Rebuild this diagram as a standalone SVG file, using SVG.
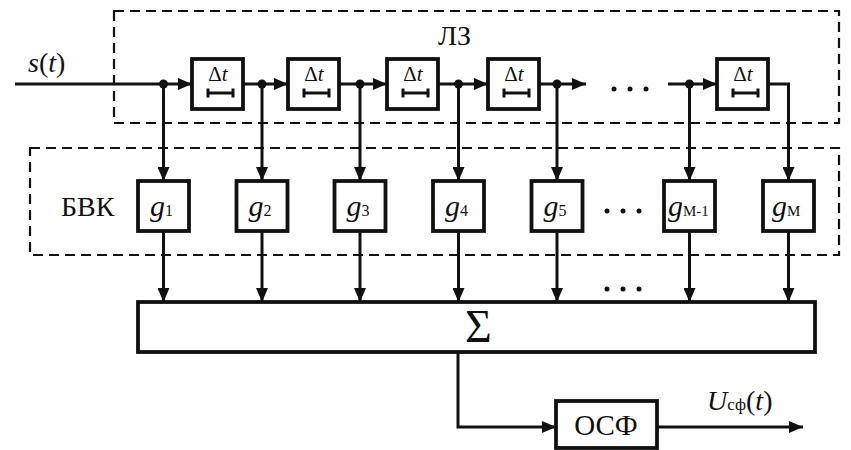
<svg xmlns="http://www.w3.org/2000/svg" width="851" height="450" viewBox="0 0 851 450" font-family="Liberation Serif, serif">
<defs>
  <marker id="ah" viewBox="0 0 14 12" refX="14" refY="6" markerWidth="14" markerHeight="12" markerUnits="userSpaceOnUse" orient="auto">
    <path d="M0,0 L14,6 L0,12 z" fill="#111"/>
  </marker>
</defs>
<rect width="851" height="450" fill="#fff"/>
<g id="lz-region">
  <rect x="114" y="11" width="725" height="112" fill="none" stroke="#111" stroke-width="2.2" stroke-dasharray="10 6"/>
  <text font-family="Liberation Serif, serif" fill="#111" x="438" y="45" font-size="28">ЛЗ</text>
</g>
<g id="bvk-region">
  <rect x="30" y="148" width="809" height="107" fill="none" stroke="#111" stroke-width="2.2" stroke-dasharray="10 6"/>
  <text font-family="Liberation Serif, serif" fill="#111" x="61" y="216" font-size="28">БВК</text>
</g>
<g id="connectors" fill="none" stroke="#111" stroke-width="3" marker-end="url(#ah)">
  <line x1="15" y1="84" x2="192" y2="84"/>
  <line x1="243" y1="84" x2="288" y2="84"/>
  <line x1="339" y1="84" x2="387" y2="84"/>
  <line x1="438" y1="84" x2="488" y2="84"/>
  <line x1="539" y1="84" x2="586" y2="84"/>
  <line x1="668" y1="84" x2="717" y2="84"/>
  <polyline points="768,84 788.5,84 788.5,181"/>
  <line x1="163.5" y1="84" x2="163.5" y2="181"/>
  <line x1="262" y1="84" x2="262" y2="181"/>
  <line x1="360" y1="84" x2="360" y2="181"/>
  <line x1="458.5" y1="84" x2="458.5" y2="181"/>
  <line x1="557" y1="84" x2="557" y2="181"/>
  <line x1="689.5" y1="84" x2="689.5" y2="181"/>
  <line x1="163.5" y1="231" x2="163.5" y2="302"/>
  <line x1="262" y1="231" x2="262" y2="302"/>
  <line x1="360" y1="231" x2="360" y2="302"/>
  <line x1="458.5" y1="231" x2="458.5" y2="302"/>
  <line x1="557" y1="231" x2="557" y2="302"/>
  <line x1="689.5" y1="231" x2="689.5" y2="302"/>
  <line x1="788.5" y1="231" x2="788.5" y2="302"/>
  <polyline points="458,352 458,427 556,427"/>
  <line x1="657" y1="427" x2="803" y2="427"/>
</g>
<g id="junctions" fill="#111">
  <circle cx="163.5" cy="84" r="4.5"/>
  <circle cx="262" cy="84" r="4.5"/>
  <circle cx="360" cy="84" r="4.5"/>
  <circle cx="458.5" cy="84" r="4.5"/>
  <circle cx="557" cy="84" r="4.5"/>
  <circle cx="689.5" cy="84" r="4.5"/>
  <circle cx="614" cy="89" r="2.5"/>
  <circle cx="630" cy="89" r="2.5"/>
  <circle cx="646" cy="89" r="2.5"/>
  <circle cx="607" cy="211" r="2.5"/>
  <circle cx="623" cy="211" r="2.5"/>
  <circle cx="639" cy="211" r="2.5"/>
  <circle cx="607" cy="289" r="2.5"/>
  <circle cx="623" cy="289" r="2.5"/>
  <circle cx="639" cy="289" r="2.5"/>
</g>
<text font-family="Liberation Serif, serif" fill="#111" x="28" y="72" font-size="28" font-style="italic">s<tspan font-style="normal">(</tspan>t<tspan font-style="normal">)</tspan></text>
<g id="delays" fill="#fff" stroke="#111" stroke-width="3.8">
  <rect x="192" y="59" width="51" height="50"/>
  <rect x="288" y="59" width="51" height="50"/>
  <rect x="387" y="59" width="51" height="50"/>
  <rect x="488" y="59" width="51" height="50"/>
  <rect x="717" y="59" width="51" height="50"/>
</g>
<g id="delay-bars" fill="none" stroke="#111" stroke-width="3">
  <path d="M208,93 H233 M208,88.5 V97.5 M233,88.5 V97.5"/>
  <path d="M304,93 H329 M304,88.5 V97.5 M329,88.5 V97.5"/>
  <path d="M403,93 H428 M403,88.5 V97.5 M428,88.5 V97.5"/>
  <path d="M504,93 H529 M504,88.5 V97.5 M529,88.5 V97.5"/>
  <path d="M733,93 H758 M733,88.5 V97.5 M758,88.5 V97.5"/>
</g>
<g id="delay-labels" font-family="Liberation Serif, serif" fill="#111" font-size="21" text-anchor="middle">
  <text x="218" y="81">Δ<tspan font-style="italic">t</tspan></text>
  <text x="314" y="81">Δ<tspan font-style="italic">t</tspan></text>
  <text x="413" y="81">Δ<tspan font-style="italic">t</tspan></text>
  <text x="514" y="81">Δ<tspan font-style="italic">t</tspan></text>
  <text x="743" y="81">Δ<tspan font-style="italic">t</tspan></text>
</g>
<g id="weights" fill="#fff" stroke="#111" stroke-width="3.8">
  <rect x="138" y="181" width="51" height="50"/>
  <rect x="236.5" y="181" width="51" height="50"/>
  <rect x="334.5" y="181" width="51" height="50"/>
  <rect x="433" y="181" width="51" height="50"/>
  <rect x="531.5" y="181" width="51" height="50"/>
  <rect x="664" y="181" width="51" height="50"/>
  <rect x="763" y="181" width="51" height="50"/>
</g>
<g id="weight-labels" font-family="Liberation Serif, serif" fill="#111">
  <text x="150" y="216"><tspan font-style="italic" font-size="30">g</tspan><tspan font-size="16">1</tspan></text>
  <text x="248.5" y="216"><tspan font-style="italic" font-size="30">g</tspan><tspan font-size="16">2</tspan></text>
  <text x="346.5" y="216"><tspan font-style="italic" font-size="30">g</tspan><tspan font-size="16">3</tspan></text>
  <text x="445" y="216"><tspan font-style="italic" font-size="30">g</tspan><tspan font-size="16">4</tspan></text>
  <text x="543.5" y="216"><tspan font-style="italic" font-size="30">g</tspan><tspan font-size="16">5</tspan></text>
  <text x="668" y="216"><tspan font-style="italic" font-size="30">g</tspan><tspan font-size="15">M-1</tspan></text>
  <text x="772" y="216"><tspan font-style="italic" font-size="30">g</tspan><tspan font-size="15">M</tspan></text>
</g>
<g id="sum">
  <rect x="138" y="302" width="677" height="50" fill="#fff" stroke="#111" stroke-width="3.8"/>
  <text font-family="Liberation Serif, serif" fill="#111" x="465" y="342" font-size="46">Σ</text>
</g>
<g id="osf">
  <rect x="556" y="401" width="101" height="47" fill="#fff" stroke="#111" stroke-width="3.8"/>
  <text font-family="Liberation Serif, serif" fill="#111" x="606" y="435" font-size="29" text-anchor="middle">ОСФ</text>
</g>
<text font-family="Liberation Serif, serif" fill="#111" x="707" y="410" font-size="28" font-style="italic">U<tspan font-style="normal" font-size="17">сф</tspan><tspan font-style="normal">(</tspan>t<tspan font-style="normal">)</tspan></text>
</svg>
